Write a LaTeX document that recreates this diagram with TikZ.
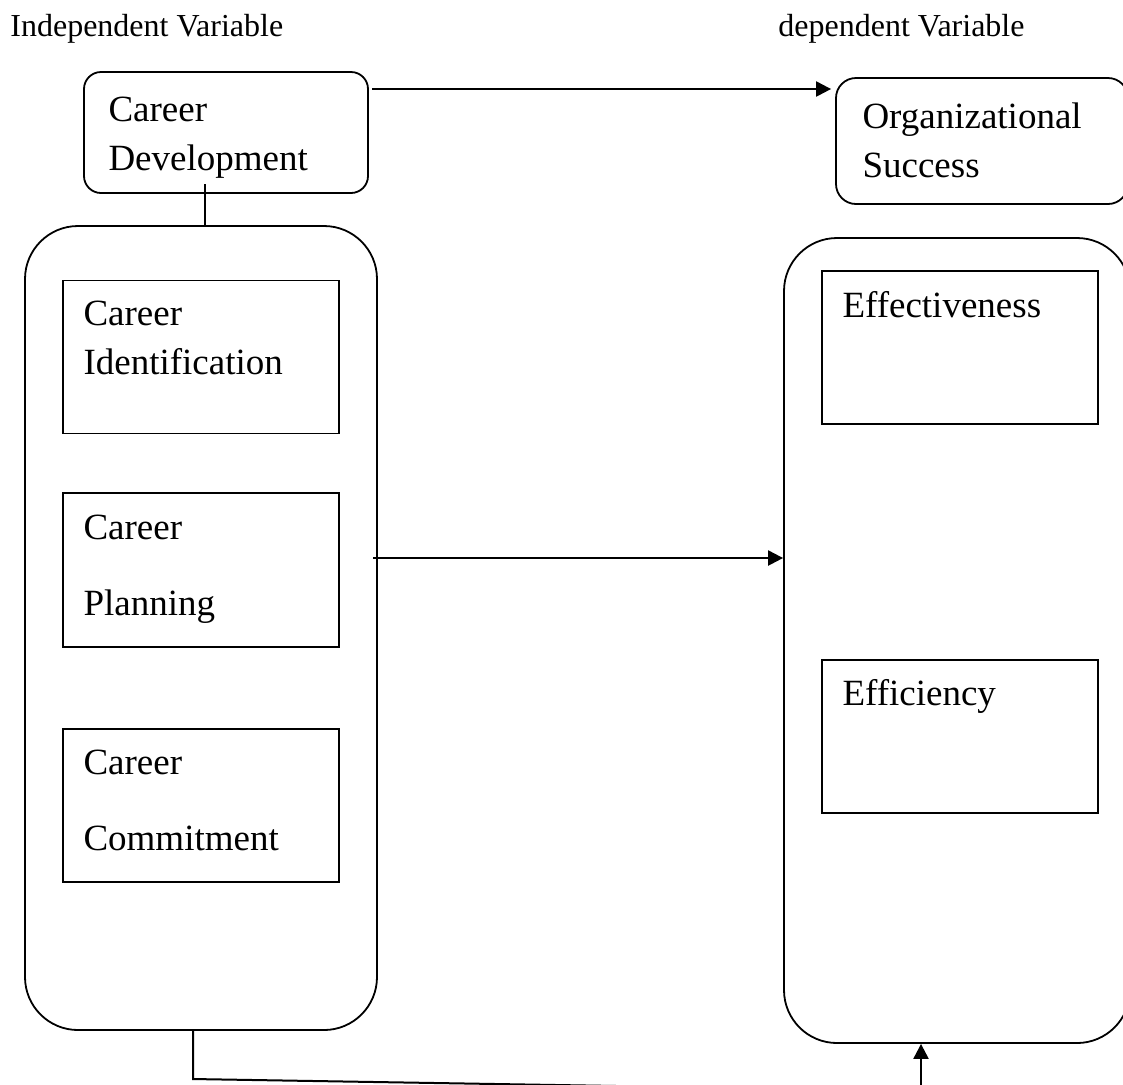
\documentclass[tikz,border=0pt]{standalone}
\usepackage{fontspec}
\setmainfont{Liberation Serif}
\usetikzlibrary{arrows.meta,positioning,calc}
\tikzset{
  topbox/.style={rectangle,draw=black,line width=0.9pt,inner sep=0pt},
  groupbox/.style={rectangle,rounded corners=26.5pt,draw=black,line width=0.9pt,
    inner sep=0pt,minimum width=176pt,minimum height=402pt},
  itembox/.style={rectangle,draw=black,line width=0.9pt,inner sep=0pt,
    minimum width=138pt,minimum height=76.5pt},
  hdrtext/.style={inner sep=0pt,font=\fontsize{16pt}{19pt}\selectfont},
  boxtext/.style={inner sep=0pt,align=left,font=\fontsize{18.5pt}{24.5pt}\selectfont},
  widetext/.style={inner sep=0pt,align=left,font=\fontsize{18.5pt}{38pt}\selectfont},
  linkarr/.style={-{Triangle[length=7.5pt,width=7.5pt]},line width=1.1pt,color=black},
  linkline/.style={line width=1pt,color=black},
}
\begin{document}
\begin{tikzpicture}[x=0.5pt,y=-0.5pt]
  \useasboundingbox (0,0) rectangle (1123,1084);

  % headings
  \node[hdrtext,anchor=base west] (ivar) at (10,36) {Independent Variable};
  \node[hdrtext,anchor=base west] (dvar) at (778,36) {dependent Variable};

  % top boxes
  \node[topbox,rounded corners=8.5pt,minimum width=142pt,minimum height=60.5pt] (cdev) at (226,132.5) {};
  \node[topbox,rounded corners=10pt,minimum width=146pt,minimum height=63pt] (orgs) at (982,141) {};
  \node[boxtext,below right=12.5pt and 12.5pt of cdev.north west] (cdevtxt) {Career\\Development};
  \node[boxtext,below right=12.5pt and 13.5pt of orgs.north west] (orgstxt) {Organizational\\Success};

  % group containers
  \node[groupbox] (lcon) at (201,628) {};
  \node[groupbox,minimum width=173pt,minimum height=402.5pt] (rcon) at (957,640.5) {};

  % dimensions of career development
  \node[itembox] (cid) at (201,357) {};
  \node[itembox,minimum height=77pt] (cpl) at (201,570) {};
  \node[itembox] (ccom) at (201,805.5) {};
  \node[boxtext,below right=10.5pt and 10.5pt of cid.north west] (cidtxt) {Career\\Identification};
  \node[widetext,below right=11pt and 10.5pt of cpl.north west] (cpltxt) {Career\\Planning};
  \node[widetext,below right=10.5pt and 10.5pt of ccom.north west] (ccomtxt) {Career\\Commitment};

  % dimensions of organizational success
  \node[itembox] (ceff) at (960,347.5) {};
  \node[itembox] (ceffi) at (960,736.5) {};
  \node[boxtext,below right=10.5pt and 10.5pt of ceff.north west] (cefftxt) {Effectiveness};
  \node[boxtext,below right=10pt and 10.5pt of ceffi.north west] (ceffitxt) {Efficiency};

  % connectors
  \coordinate (topl) at (372,89);
  \coordinate (tap) at (205,184);
  \coordinate (midl) at (373,558);
  \coordinate (lfoot) at (193,1079);
  \coordinate (rfoot) at (921,1091);

  \draw[linkarr,shorten >=2pt] (topl) -- (topl -| orgs.west);
  \draw[linkline] (tap) -- (tap |- lcon.north);
  \draw[linkarr] (midl) -- (midl -| rcon.west);
  \draw[linkline] (lcon.south -| lfoot) -- (lfoot) -- (rfoot);
  \draw[linkarr] (rfoot) -- (rfoot |- rcon.south);
\end{tikzpicture}
\end{document}
